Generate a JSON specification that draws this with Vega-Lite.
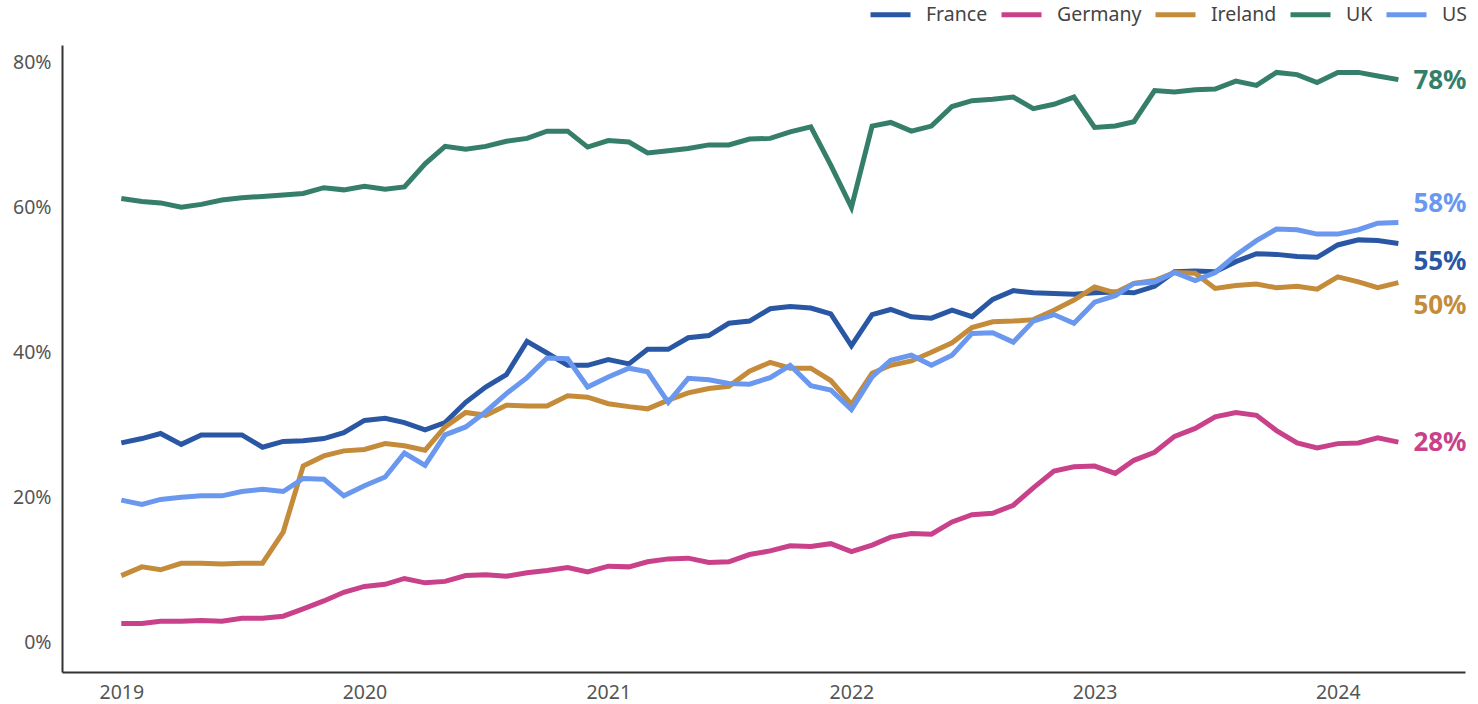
{
  "$schema": "https://vega.github.io/schema/vega-lite/v6.json",
  "autosize": "none",
  "width": 1403,
  "height": 627,
  "padding": {"left": 62, "top": 45, "right": 13, "bottom": 32},
  "background": "white",
  "config": {"view": {"stroke": null}, "font": "Noto Sans"},
  "data": {"values": [
    {"date":"2019-01-01","France":0.275,"Germany":0.026,"Ireland":0.092,"UK":0.612,"US":0.196},
    {"date":"2019-02-01","France":0.281,"Germany":0.026,"Ireland":0.104,"UK":0.608,"US":0.190},
    {"date":"2019-03-01","France":0.288,"Germany":0.029,"Ireland":0.100,"UK":0.606,"US":0.197},
    {"date":"2019-04-01","France":0.273,"Germany":0.029,"Ireland":0.109,"UK":0.600,"US":0.200},
    {"date":"2019-05-01","France":0.286,"Germany":0.030,"Ireland":0.109,"UK":0.604,"US":0.202},
    {"date":"2019-06-01","France":0.286,"Germany":0.029,"Ireland":0.108,"UK":0.610,"US":0.202},
    {"date":"2019-07-01","France":0.286,"Germany":0.033,"Ireland":0.109,"UK":0.613,"US":0.208},
    {"date":"2019-08-01","France":0.269,"Germany":0.033,"Ireland":0.109,"UK":0.615,"US":0.211},
    {"date":"2019-09-01","France":0.277,"Germany":0.036,"Ireland":0.152,"UK":0.617,"US":0.208},
    {"date":"2019-10-01","France":0.278,"Germany":0.046,"Ireland":0.243,"UK":0.619,"US":0.226},
    {"date":"2019-11-01","France":0.281,"Germany":0.057,"Ireland":0.257,"UK":0.627,"US":0.225},
    {"date":"2019-12-01","France":0.289,"Germany":0.069,"Ireland":0.264,"UK":0.624,"US":0.202},
    {"date":"2020-01-01","France":0.306,"Germany":0.077,"Ireland":0.266,"UK":0.629,"US":0.216},
    {"date":"2020-02-01","France":0.309,"Germany":0.080,"Ireland":0.274,"UK":0.625,"US":0.228},
    {"date":"2020-03-01","France":0.303,"Germany":0.088,"Ireland":0.271,"UK":0.628,"US":0.261},
    {"date":"2020-04-01","France":0.293,"Germany":0.082,"Ireland":0.265,"UK":0.660,"US":0.244},
    {"date":"2020-05-01","France":0.303,"Germany":0.084,"Ireland":0.297,"UK":0.684,"US":0.286},
    {"date":"2020-06-01","France":0.331,"Germany":0.092,"Ireland":0.317,"UK":0.680,"US":0.297},
    {"date":"2020-07-01","France":0.352,"Germany":0.093,"Ireland":0.313,"UK":0.684,"US":0.318},
    {"date":"2020-08-01","France":0.369,"Germany":0.091,"Ireland":0.327,"UK":0.691,"US":0.343},
    {"date":"2020-09-01","France":0.415,"Germany":0.096,"Ireland":0.326,"UK":0.695,"US":0.365},
    {"date":"2020-10-01","France":0.399,"Germany":0.099,"Ireland":0.326,"UK":0.705,"US":0.392},
    {"date":"2020-11-01","France":0.382,"Germany":0.103,"Ireland":0.340,"UK":0.705,"US":0.391},
    {"date":"2020-12-01","France":0.382,"Germany":0.097,"Ireland":0.338,"UK":0.683,"US":0.352},
    {"date":"2021-01-01","France":0.390,"Germany":0.105,"Ireland":0.329,"UK":0.692,"US":0.366},
    {"date":"2021-02-01","France":0.384,"Germany":0.104,"Ireland":0.325,"UK":0.690,"US":0.378},
    {"date":"2021-03-01","France":0.404,"Germany":0.111,"Ireland":0.322,"UK":0.675,"US":0.373},
    {"date":"2021-04-01","France":0.404,"Germany":0.115,"Ireland":0.334,"UK":0.678,"US":0.331},
    {"date":"2021-05-01","France":0.420,"Germany":0.116,"Ireland":0.344,"UK":0.681,"US":0.364},
    {"date":"2021-06-01","France":0.423,"Germany":0.110,"Ireland":0.350,"UK":0.686,"US":0.362},
    {"date":"2021-07-01","France":0.440,"Germany":0.111,"Ireland":0.353,"UK":0.686,"US":0.357},
    {"date":"2021-08-01","France":0.443,"Germany":0.121,"Ireland":0.374,"UK":0.694,"US":0.356},
    {"date":"2021-09-01","France":0.460,"Germany":0.126,"Ireland":0.386,"UK":0.695,"US":0.365},
    {"date":"2021-10-01","France":0.463,"Germany":0.133,"Ireland":0.378,"UK":0.704,"US":0.382},
    {"date":"2021-11-01","France":0.461,"Germany":0.132,"Ireland":0.378,"UK":0.711,"US":0.354},
    {"date":"2021-12-01","France":0.453,"Germany":0.136,"Ireland":0.361,"UK":0.658,"US":0.348},
    {"date":"2022-01-01","France":0.409,"Germany":0.125,"Ireland":0.328,"UK":0.600,"US":0.321},
    {"date":"2022-02-01","France":0.452,"Germany":0.134,"Ireland":0.371,"UK":0.712,"US":0.366},
    {"date":"2022-03-01","France":0.459,"Germany":0.145,"Ireland":0.382,"UK":0.717,"US":0.389},
    {"date":"2022-04-01","France":0.449,"Germany":0.150,"Ireland":0.388,"UK":0.705,"US":0.396},
    {"date":"2022-05-01","France":0.447,"Germany":0.149,"Ireland":0.400,"UK":0.712,"US":0.382},
    {"date":"2022-06-01","France":0.458,"Germany":0.166,"Ireland":0.413,"UK":0.739,"US":0.396},
    {"date":"2022-07-01","France":0.449,"Germany":0.176,"Ireland":0.434,"UK":0.747,"US":0.426},
    {"date":"2022-08-01","France":0.473,"Germany":0.178,"Ireland":0.442,"UK":0.749,"US":0.427},
    {"date":"2022-09-01","France":0.485,"Germany":0.189,"Ireland":0.443,"UK":0.752,"US":0.414},
    {"date":"2022-10-01","France":0.482,"Germany":0.213,"Ireland":0.445,"UK":0.736,"US":0.443},
    {"date":"2022-11-01","France":0.481,"Germany":0.236,"Ireland":0.458,"UK":0.742,"US":0.452},
    {"date":"2022-12-01","France":0.480,"Germany":0.242,"Ireland":0.472,"UK":0.752,"US":0.440},
    {"date":"2023-01-01","France":0.482,"Germany":0.243,"Ireland":0.490,"UK":0.710,"US":0.469},
    {"date":"2023-02-01","France":0.483,"Germany":0.233,"Ireland":0.482,"UK":0.712,"US":0.478},
    {"date":"2023-03-01","France":0.482,"Germany":0.251,"Ireland":0.495,"UK":0.718,"US":0.495},
    {"date":"2023-04-01","France":0.491,"Germany":0.262,"Ireland":0.499,"UK":0.761,"US":0.497},
    {"date":"2023-05-01","France":0.511,"Germany":0.284,"Ireland":0.510,"UK":0.759,"US":0.510},
    {"date":"2023-06-01","France":0.512,"Germany":0.295,"Ireland":0.509,"UK":0.762,"US":0.499},
    {"date":"2023-07-01","France":0.511,"Germany":0.311,"Ireland":0.488,"UK":0.763,"US":0.510},
    {"date":"2023-08-01","France":0.525,"Germany":0.317,"Ireland":0.492,"UK":0.774,"US":0.534},
    {"date":"2023-09-01","France":0.536,"Germany":0.313,"Ireland":0.494,"UK":0.768,"US":0.554},
    {"date":"2023-10-01","France":0.535,"Germany":0.292,"Ireland":0.489,"UK":0.786,"US":0.570},
    {"date":"2023-11-01","France":0.532,"Germany":0.275,"Ireland":0.491,"UK":0.783,"US":0.569},
    {"date":"2023-12-01","France":0.531,"Germany":0.268,"Ireland":0.487,"UK":0.772,"US":0.563},
    {"date":"2024-01-01","France":0.548,"Germany":0.274,"Ireland":0.504,"UK":0.786,"US":0.563},
    {"date":"2024-02-01","France":0.555,"Germany":0.275,"Ireland":0.497,"UK":0.786,"US":0.569},
    {"date":"2024-03-01","France":0.554,"Germany":0.282,"Ireland":0.489,"UK":0.781,"US":0.578},
    {"date":"2024-04-01","France":0.550,"Germany":0.276,"Ireland":0.496,"UK":0.776,"US":0.579}
  ]},
  "transform": [{"fold": ["France", "Germany", "Ireland", "UK", "US"], "as": ["country", "value"]}],
  "encoding": {
    "x": {
      "field": "date", "type": "temporal",
      "scale": {"type": "utc", "domain": [{"year": 2018, "month": 10, "date": 4, "utc": true}, {"year": 2024, "month": 7, "date": 10, "utc": true}]},
      "axis": {
        "title": null, "grid": false, "ticks": false,
        "values": [{"year": 2019, "utc": true}, {"year": 2020, "utc": true}, {"year": 2021, "utc": true}, {"year": 2022, "utc": true}, {"year": 2023, "utc": true}, {"year": 2024, "utc": true}],
        "format": "%Y", "labelFontSize": 19.5, "labelColor": "#555", "labelFont": "Noto Sans", "labelPadding": 11,
        "domainColor": "#333", "domainWidth": 2
      }
    },
    "y": {
      "field": "value", "type": "quantitative",
      "scale": {"domain": [-0.041, 0.8238], "nice": false, "zero": false},
      "axis": {
        "title": null, "grid": false, "ticks": false, "values": [0, 0.2, 0.4, 0.6, 0.8], "format": ".0%",
        "labelFontSize": 19.5, "labelColor": "#555", "labelFont": "Noto Sans", "labelPadding": 11,
        "domainColor": "#333", "domainWidth": 2
      }
    }
  },
  "layer": [
    {
      "mark": {"type": "line", "strokeWidth": 5},
      "encoding": {
        "color": {
          "field": "country", "type": "nominal",
          "scale": {"domain": ["France", "Germany", "Ireland", "UK", "US"], "range": ["#2a57a4", "#c9418a", "#c48c3a", "#357f6a", "#6a98ee"]},
          "legend": {
            "title": null, "orient": "none", "legendX": 806, "legendY": -53, "direction": "horizontal",
            "symbolType": "stroke", "symbolSize": 1600, "symbolStrokeWidth": 5,
            "labelFontSize": 19.5, "labelColor": "#444", "labelFont": "Noto Sans", "labelOffset": 13, "columnPadding": 3, "padding": 0
          }
        }
      }
    },
    {
      "transform": [{"filter": "time(datum.date) === utc(2024,3,1) && (datum.country === 'UK' || datum.country === 'Germany')"}],
      "mark": {"type": "text", "align": "left", "baseline": "middle", "dx": 15, "dy": 1, "fontSize": 26, "fontWeight": "bold", "font": "Noto Sans"},
      "encoding": {
        "text": {"field": "value", "type": "quantitative", "format": ".0%"},
        "color": {"field": "country", "type": "nominal", "scale": {"domain": ["France", "Germany", "Ireland", "UK", "US"], "range": ["#2a57a4", "#c9418a", "#c48c3a", "#357f6a", "#6a98ee"]}, "legend": null}
      }
    },
    {
      "transform": [{"filter": "time(datum.date) === utc(2024,3,1) && datum.country === 'US'"}],
      "mark": {"type": "text", "align": "left", "baseline": "middle", "dx": 15, "dy": -18, "fontSize": 26, "fontWeight": "bold", "font": "Noto Sans"},
      "encoding": {
        "text": {"field": "value", "type": "quantitative", "format": ".0%"},
        "color": {"field": "country", "type": "nominal", "scale": {"domain": ["France", "Germany", "Ireland", "UK", "US"], "range": ["#2a57a4", "#c9418a", "#c48c3a", "#357f6a", "#6a98ee"]}, "legend": null}
      }
    },
    {
      "transform": [{"filter": "time(datum.date) === utc(2024,3,1) && datum.country === 'France'"}],
      "mark": {"type": "text", "align": "left", "baseline": "middle", "dx": 15, "dy": 18, "fontSize": 26, "fontWeight": "bold", "font": "Noto Sans"},
      "encoding": {
        "text": {"field": "value", "type": "quantitative", "format": ".0%"},
        "color": {"field": "country", "type": "nominal", "scale": {"domain": ["France", "Germany", "Ireland", "UK", "US"], "range": ["#2a57a4", "#c9418a", "#c48c3a", "#357f6a", "#6a98ee"]}, "legend": null}
      }
    },
    {
      "transform": [{"filter": "time(datum.date) === utc(2024,3,1) && datum.country === 'Ireland'"}],
      "mark": {"type": "text", "align": "left", "baseline": "middle", "dx": 15, "dy": 23, "fontSize": 26, "fontWeight": "bold", "font": "Noto Sans"},
      "encoding": {
        "text": {"field": "value", "type": "quantitative", "format": ".0%"},
        "color": {"field": "country", "type": "nominal", "scale": {"domain": ["France", "Germany", "Ireland", "UK", "US"], "range": ["#2a57a4", "#c9418a", "#c48c3a", "#357f6a", "#6a98ee"]}, "legend": null}
      }
    }
  ]
}
